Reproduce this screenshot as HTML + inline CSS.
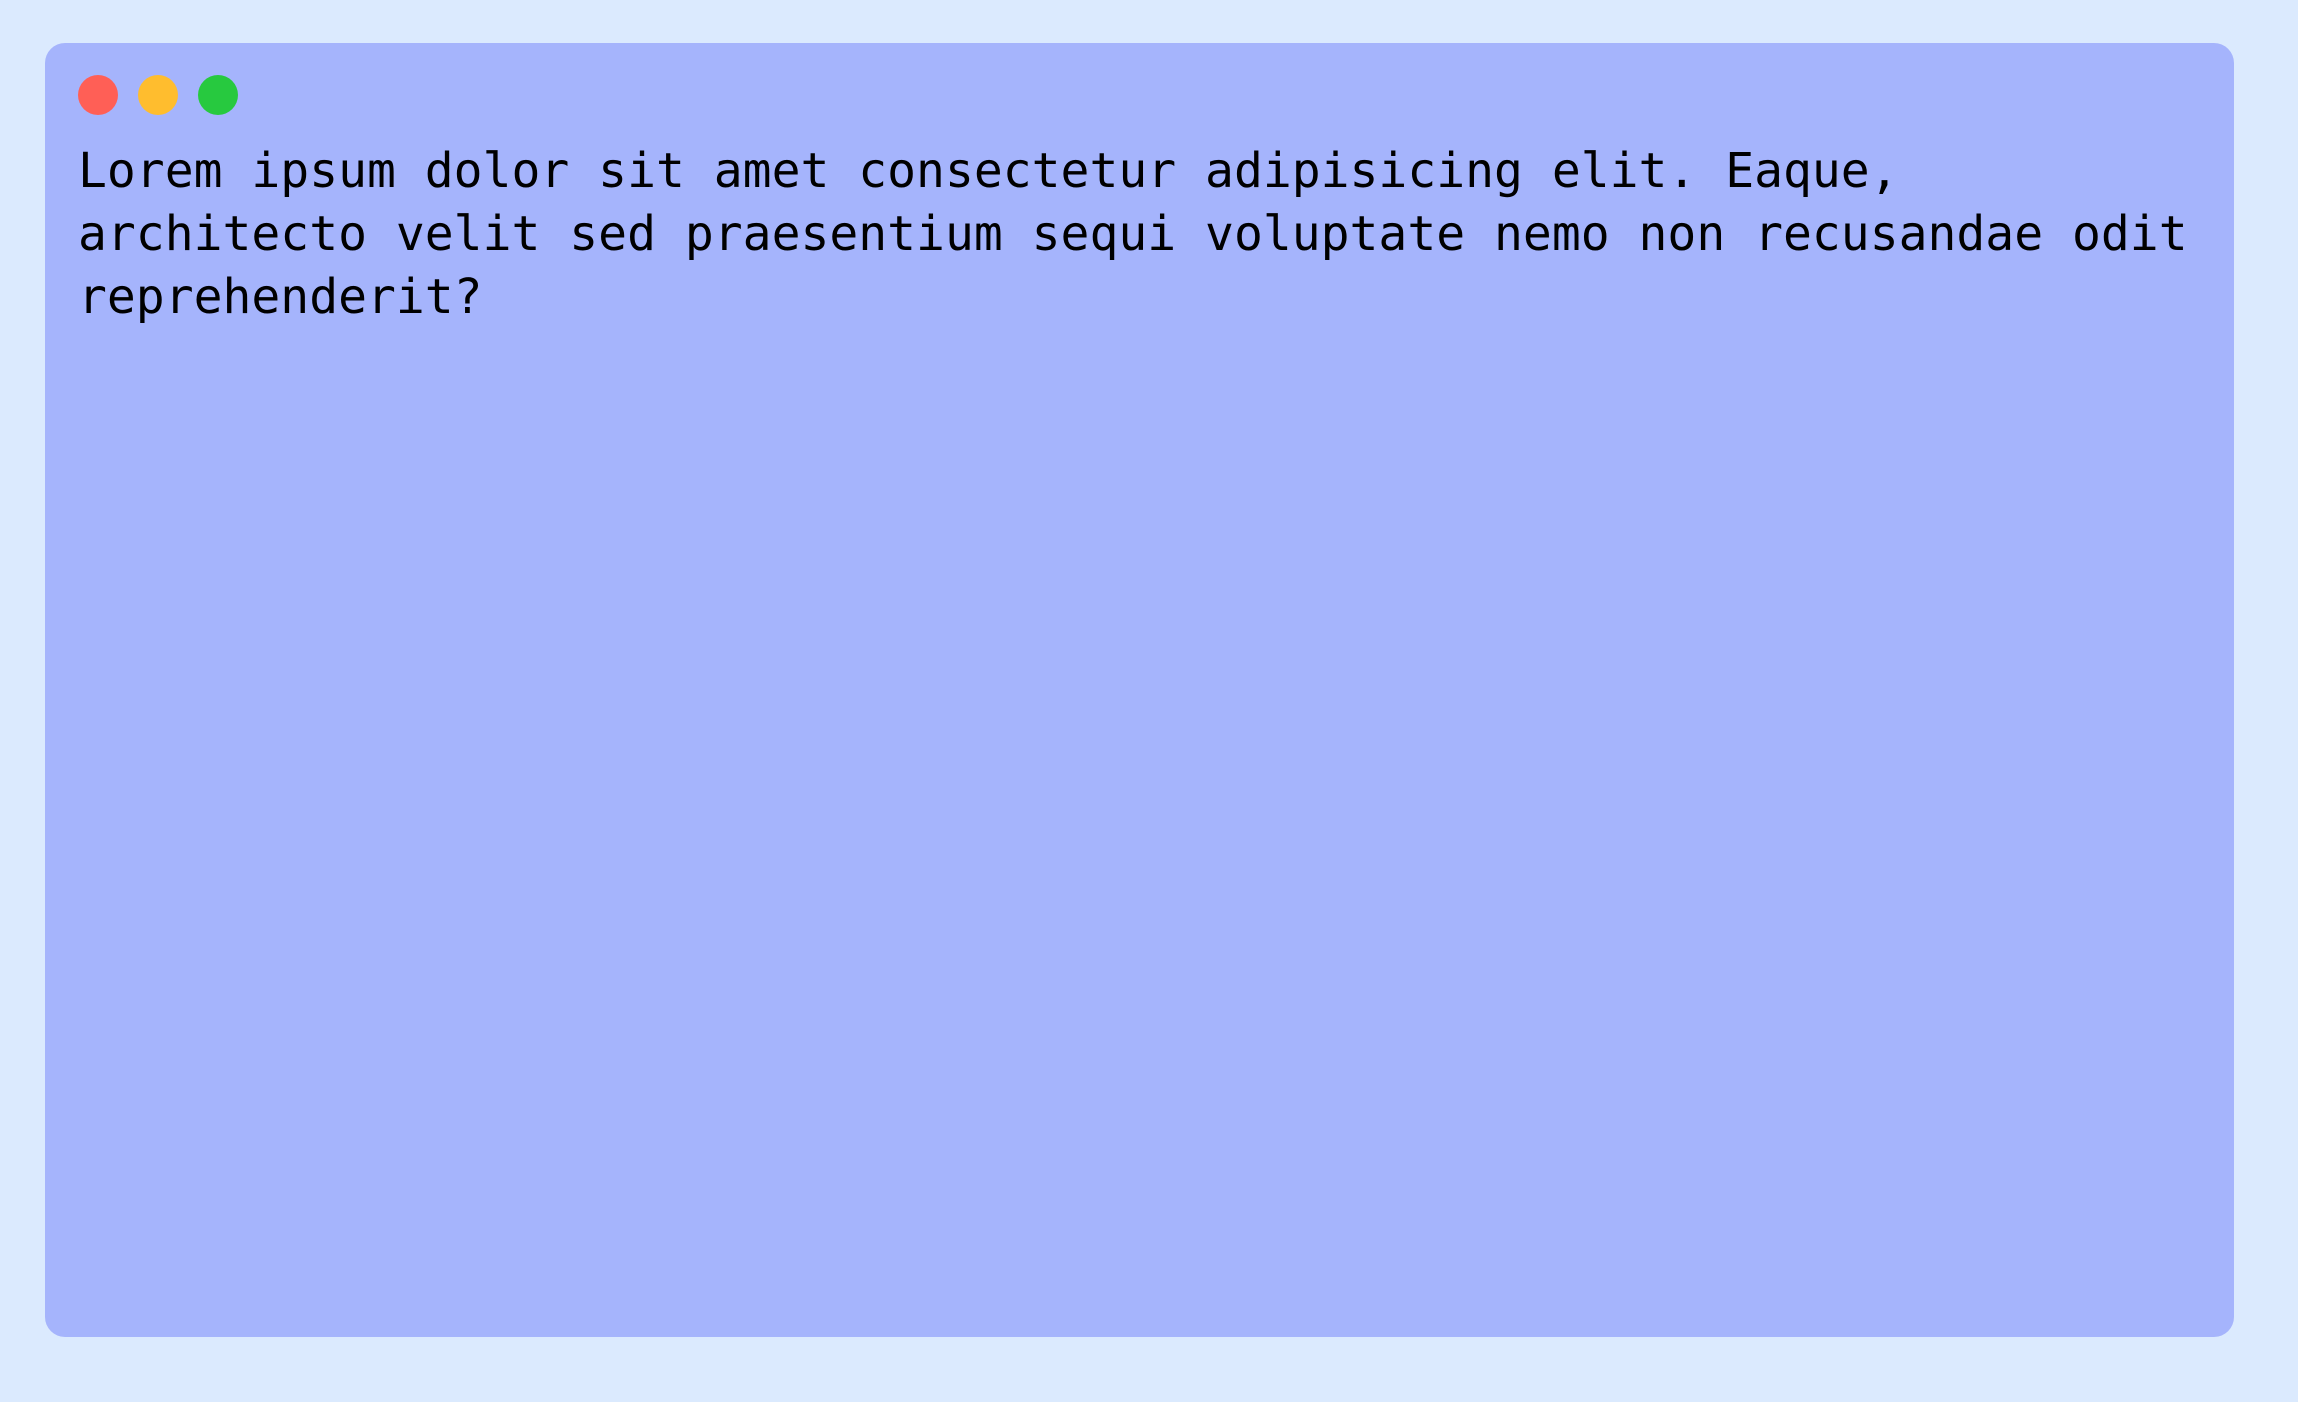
<!DOCTYPE html>
<html><head><meta charset="utf-8"><style>
html,body{margin:0;padding:0;width:2298px;height:1402px;background:#dbeafe;overflow:hidden}
.win{position:absolute;left:45px;top:43px;width:2189px;height:1294px;background:#a5b4fc;border-radius:20px}
.dot{position:absolute;top:32px;width:40px;height:40px;border-radius:50%}
.t{position:absolute;left:33px;top:97px;font-family:"DejaVu Sans Mono","Liberation Mono",monospace;font-size:48px;line-height:63px;color:#000;white-space:nowrap}
</style></head><body>
<div class="win">
<div class="dot" style="left:33px;background:#ff5f56"></div>
<div class="dot" style="left:93px;background:#ffbd2e"></div>
<div class="dot" style="left:153px;background:#27c93f"></div>
<div class="t">Lorem ipsum dolor sit amet consectetur adipisicing elit. Eaque,<br>architecto velit sed praesentium sequi voluptate nemo non recusandae odit<br>reprehenderit?</div>
</div>
</body></html>
